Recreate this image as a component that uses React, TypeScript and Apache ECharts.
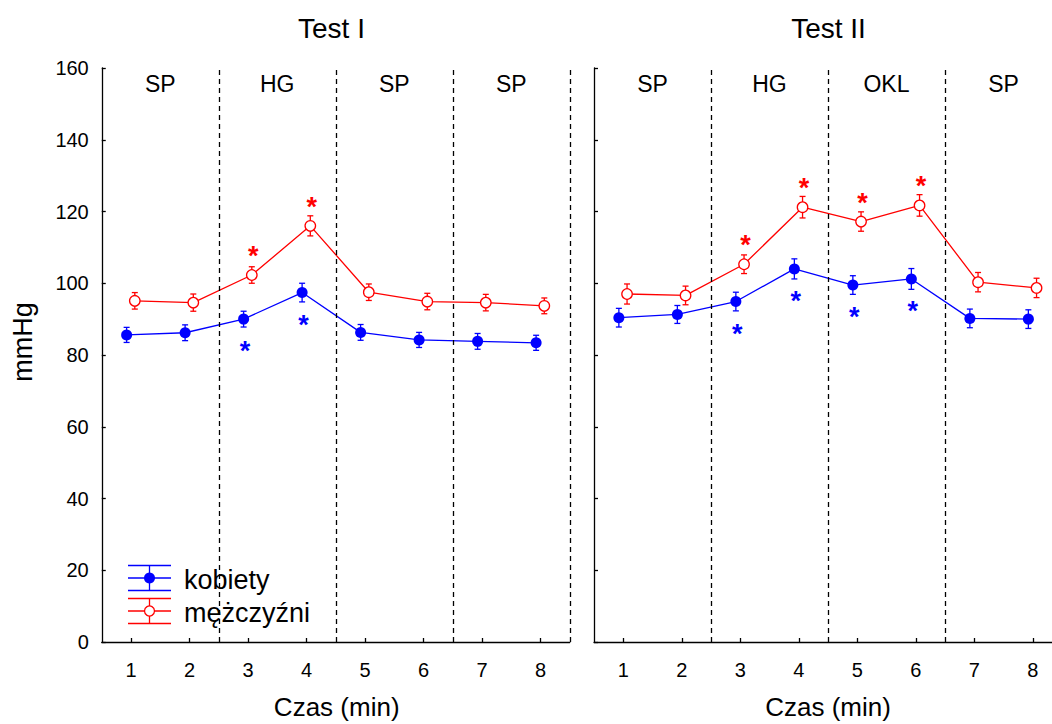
import React, { useEffect, useRef } from "react";
import * as echarts from "echarts";

// ---------- data ----------
const TIMES = [1, 2, 3, 4, 5, 6, 7, 8];
const PHASE_BOUNDS = [0.5, 2.5, 4.5, 6.5, 8.5];
const PHASES_TEST1 = ["SP", "HG", "SP", "SP"];
const PHASES_TEST2 = ["SP", "HG", "OKL", "SP"];
const PANEL_TITLES = ["Test I", "Test II"];
const SERIES_NAMES = ["kobiety", "mężczyźni"];
const X_NAME = "Czas (min)";
const Y_NAME = "mmHg";

const KOBIETY_T1 = [85.6, 86.2, 90.0, 97.4, 86.3, 84.2, 83.8, 83.4];
const KOBIETY_T1_ERR = [2.1, 2.2, 2.2, 2.6, 2.2, 2.1, 2.2, 2.1];
const MEZCZYZNI_T1 = [95.1, 94.6, 102.3, 116.0, 97.5, 94.9, 94.6, 93.7];
const MEZCZYZNI_T1_ERR = [2.3, 2.4, 2.3, 2.8, 2.3, 2.3, 2.3, 2.2];
const KOBIETY_T2 = [90.4, 91.3, 94.9, 104.0, 99.5, 101.2, 90.2, 90.0];
const KOBIETY_T2_ERR = [2.6, 2.5, 2.6, 2.8, 2.6, 2.9, 2.6, 2.6];
const MEZCZYZNI_T2 = [97.0, 96.6, 105.3, 121.2, 117.2, 121.7, 100.3, 98.7];
const MEZCZYZNI_T2_ERR = [2.8, 2.6, 2.6, 3.0, 2.7, 3.0, 2.7, 2.7];
const SIGNIFICANT_T1 = [false, false, true, true, false, false, false, false];
const SIGNIFICANT_T2 = [false, false, true, true, true, true, false, false];

// ---------- style ----------
const FONT = '"Liberation Sans", Arial, Helvetica, sans-serif';
const BLUE = "#0000ff";
const RED = "#ff0000";
const DODGE_BLUE = -0.075;
const DODGE_RED = 0.065;
const CAP = 3;
const LW = 1.3;
const GRID_TOP = 68;
const GRID_H = 574;
const GRID_W = 468;
const GRID_LEFTS = [101.75, 594];

function errorBarRenderer(color: string) {
  return (params: any, api: any) => {
    const x = api.value(0);
    const y = api.value(1);
    const e = api.value(2);
    const top = api.coord([x, y + e]);
    const bot = api.coord([x, y - e]);
    const style = { stroke: color, lineWidth: LW, fill: "none" };
    return {
      type: "group",
      children: [
        { type: "line", shape: { x1: top[0], y1: top[1], x2: bot[0], y2: bot[1] }, style },
        { type: "line", shape: { x1: top[0] - CAP, y1: top[1], x2: top[0] + CAP, y2: top[1] }, style },
        { type: "line", shape: { x1: bot[0] - CAP, y1: bot[1], x2: bot[0] + CAP, y2: bot[1] }, style },
      ],
    };
  };
}

function asteriskRenderer(color: string, offset: number) {
  const fs = 27;
  return (params: any, api: any) => {
    const p = api.coord([api.value(0), api.value(1)]);
    return {
      type: "text",
      x: p[0] + 1.5,
      y: p[1] + offset + fs * 0.225,
      style: {
        text: "*",
        fill: color,
        fontSize: fs,
        fontFamily: FONT,
        fontWeight: "bold",
        align: "center",
        verticalAlign: "middle",
        textAlign: "center",
        textVerticalAlign: "middle",
      },
    };
  };
}

function panelSeries(
  idx: number,
  blue: number[],
  blueErr: number[],
  red: number[],
  redErr: number[],
  sig: boolean[],
  phases: string[]
) {
  const axes = { xAxisIndex: idx, yAxisIndex: idx };
  const bluePts = blue.map((v, i) => [TIMES[i] + DODGE_BLUE, v]);
  const redPts = red.map((v, i) => [TIMES[i] + DODGE_RED, v]);
  return [
    {
      type: "custom",
      name: SERIES_NAMES[0] + "-err",
      ...axes,
      data: blue.map((v, i) => [TIMES[i] + DODGE_BLUE, v, blueErr[i]]),
      encode: { x: 0, y: 1 },
      renderItem: errorBarRenderer(BLUE),
      silent: true,
      z: 2,
    },
    {
      type: "custom",
      name: SERIES_NAMES[1] + "-err",
      ...axes,
      data: red.map((v, i) => [TIMES[i] + DODGE_RED, v, redErr[i]]),
      encode: { x: 0, y: 1 },
      renderItem: errorBarRenderer(RED),
      silent: true,
      z: 2,
    },
    {
      type: "line",
      name: SERIES_NAMES[0],
      ...axes,
      data: bluePts,
      symbol: "circle",
      symbolSize: 11,
      itemStyle: { color: BLUE },
      lineStyle: { color: BLUE, width: LW },
      z: 3,
      markLine: {
        silent: true,
        symbol: ["none", "none"],
        label: { show: false },
        lineStyle: { type: [5, 4], color: "#000", width: LW },
        data: PHASE_BOUNDS.slice(1).map((b) => ({ xAxis: b })),
      },
      markArea: {
        silent: true,
        itemStyle: { color: "rgba(0,0,0,0)" },
        label: {
          show: true,
          position: "insideTop",
          distance: 4,
          color: "#000",
          fontSize: 23,
          fontFamily: FONT,
        },
        data: phases.map((p, i) => [
          { name: p, xAxis: PHASE_BOUNDS[i] },
          { xAxis: PHASE_BOUNDS[i + 1] },
        ]),
      },
    },
    {
      type: "line",
      name: SERIES_NAMES[1],
      ...axes,
      data: redPts,
      symbol: "circle",
      symbolSize: 10.5,
      itemStyle: { color: "#ffffff", borderColor: RED, borderWidth: LW },
      lineStyle: { color: RED, width: LW },
      z: 4,
    },
    {
      type: "custom",
      name: SERIES_NAMES[1] + "-sig",
      ...axes,
      data: redPts.filter((_, i) => sig[i]),
      encode: { x: 0, y: 1 },
      renderItem: asteriskRenderer(RED, -25),
      silent: true,
      z: 5,
    },
    {
      type: "custom",
      name: SERIES_NAMES[0] + "-sig",
      ...axes,
      data: bluePts.filter((_, i) => sig[i]),
      encode: { x: 0, y: 1 },
      renderItem: asteriskRenderer(BLUE, 26),
      silent: true,
      z: 5,
    },
  ];
}

function legendGraphic() {
  const rows = [
    { color: BLUE, y: 578, filled: true, r: 5.5, name: SERIES_NAMES[0] },
    { color: RED, y: 611, filled: false, r: 5, name: SERIES_NAMES[1] },
  ];
  const children: any[] = [];
  rows.forEach((r) => {
    const ls = { stroke: r.color, lineWidth: LW };
    [-12.5, 0, 12.5].forEach((dy) => {
      children.push({ type: "line", shape: { x1: 128, y1: r.y + dy, x2: 171, y2: r.y + dy }, style: ls });
    });
    children.push({ type: "line", shape: { x1: 149.5, y1: r.y - 12.5, x2: 149.5, y2: r.y + 12.5 }, style: ls });
    children.push({
      type: "circle",
      shape: { cx: 149.5, cy: r.y, r: r.r },
      style: r.filled ? { fill: r.color } : { fill: "#fff", stroke: r.color, lineWidth: LW },
    });
    children.push({
      type: "text",
      x: 184,
      y: r.y + 2,
      style: {
        text: r.name,
        fill: "#000",
        fontSize: 27,
        fontFamily: FONT,
        align: "left",
        verticalAlign: "middle",
        textAlign: "left",
        textVerticalAlign: "middle",
      },
    });
  });
  return { type: "group", children };
}

function textEl(text: string, x: number, y: number, fontSize: number, rotation = 0) {
  return {
    type: "text",
    x,
    y,
    rotation,
    style: {
      text,
      fill: "#000",
      fontSize,
      fontFamily: FONT,
      align: "center",
      verticalAlign: "middle",
      textAlign: "center",
      textVerticalAlign: "middle",
    },
  };
}

export default function App() {
  const ref = useRef<HTMLDivElement>(null);
  useEffect(() => {
    if (!ref.current) return;
    const chart = echarts.init(ref.current, null, { renderer: "svg" });
    const axisLine = { show: true, lineStyle: { color: "#000", width: LW } };
    const axisTick = { show: true, inside: true, length: 4, lineStyle: { color: "#000", width: LW } };
    const xAxes = [0, 1].map((i) => ({
      type: "value",
      gridIndex: i,
      min: 0.5,
      max: 8.5,
      axisLine: { ...axisLine, onZero: false },
      axisTick: { ...axisTick, customValues: TIMES },
      axisLabel: {
        customValues: TIMES,
        margin: 18,
        color: "#000",
        fontSize: 20,
        fontFamily: FONT,
      },
      splitLine: { show: false },
    }));
    const yAxes = [0, 1].map((i) => ({
      type: "value",
      gridIndex: i,
      min: 0,
      max: 160,
      interval: 20,
      axisLine: { ...axisLine, onZero: false },
      axisTick,
      axisLabel: {
        show: i === 0,
        margin: 13,
        color: "#000",
        fontSize: 20,
        fontFamily: FONT,
      },
      splitLine: { show: false },
    }));
    chart.setOption({
      animation: false,
      backgroundColor: "#ffffff",
      grid: GRID_LEFTS.map((left) => ({
        left,
        top: GRID_TOP,
        width: GRID_W,
        height: GRID_H,
        outerBoundsMode: "none",
        containLabel: false,
      })),
      xAxis: xAxes,
      yAxis: yAxes,
      series: [
        ...panelSeries(0, KOBIETY_T1, KOBIETY_T1_ERR, MEZCZYZNI_T1, MEZCZYZNI_T1_ERR, SIGNIFICANT_T1, PHASES_TEST1),
        ...panelSeries(1, KOBIETY_T2, KOBIETY_T2_ERR, MEZCZYZNI_T2, MEZCZYZNI_T2_ERR, SIGNIFICANT_T2, PHASES_TEST2),
      ],
      graphic: [
        textEl(PANEL_TITLES[0], 331.5, 28.5, 28),
        textEl(PANEL_TITLES[1], 828.5, 28.5, 28),
        textEl(X_NAME, 336.7, 707, 26),
        textEl(X_NAME, 828, 707, 26),
        textEl(Y_NAME, 23, 342, 27, Math.PI / 2),
        legendGraphic(),
      ],
    });
    return () => chart.dispose();
  }, []);
  return (
    <div
      ref={ref}
      style={{ position: "absolute", left: 0, top: 0, width: 1052, height: 724, background: "#fff" }}
    />
  );
}
